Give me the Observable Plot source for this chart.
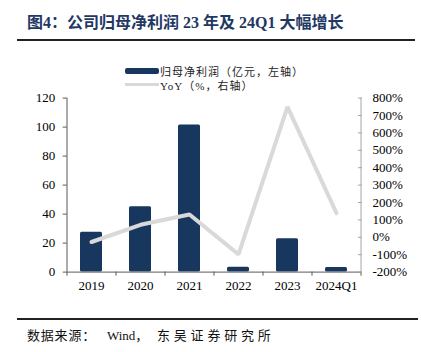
<!DOCTYPE html>
<html><head><meta charset="utf-8">
<script src="https://cdn.jsdelivr.net/npm/d3@7"></script>
<script src="https://cdn.jsdelivr.net/npm/@observablehq/plot@0.6"></script>
<style>
body{margin:0;background:#fff;}
#wrap{position:relative;width:421px;height:352px;overflow:hidden;font-family:"Liberation Serif","Noto Sans CJK SC",serif;}
.abs{position:absolute;}
#title{left:27px;top:9px;font-size:16px;font-weight:bold;color:#1f3864;white-space:nowrap;}
#hr1{left:17px;top:39px;width:398px;height:2px;background:#222;}
#hr2{left:17px;top:318px;width:401px;height:2px;background:#222;}
#caption{left:27px;top:325px;font-size:13px;color:#111;white-space:nowrap;}
.leg{font-size:11px;color:#222;white-space:nowrap;letter-spacing:1px;}
#plot{left:0;top:80px;}
</style></head>
<body><div id="wrap">
<div id="title" class="abs">图4：公司归母净利润 23 年及 24Q1 大幅增长</div>
<div id="hr1" class="abs"></div>
<div class="abs" style="left:125px;top:68px;width:34px;height:6px;background:#17375e;border-radius:2px;"></div>
<div class="abs leg" style="left:160px;top:63px;">归母净利润（亿元，左轴）</div>
<div class="abs" style="left:125px;top:83px;width:34px;height:3px;background:#d9d9d9;"></div>
<div class="abs leg" style="left:160px;top:77px;">YoY（%，右轴）</div>
<div id="plot" class="abs"></div>
<div id="hr2" class="abs"></div>
<div id="caption" class="abs"><span style="letter-spacing:0.8px">数据来源：</span><span style="position:absolute;left:80px;">Wind，</span><span style="position:absolute;left:130px;letter-spacing:3.8px">东吴证券研究所</span></div>
</div>
<script>
const categories = ["2019","2020","2021","2022","2023","2024Q1"];
const profit = [27.5, 45, 101.5, 3.3, 23, 3.2];
const yoy = [-27, 72, 131, -98, 750, 139];
const leftTicks = [0,20,40,60,80,100,120];
const rightTicks = [-200,-100,0,100,200,300,400,500,600,700,800];

const toLeft = v => (v + 200) / 1000 * 120;
const bars = categories.map((c,i)=>({cat:c, v:profit[i]}));
const line = categories.map((c,i)=>({cat:c, v:toLeft(yoy[i])}));
const axisGray = "#595959";
const last = categories[categories.length-1];

const chart = Plot.plot({
  width: 421, height: 225,
  marginTop: 17.6, marginBottom: 33.4, marginLeft: 66.7, marginRight: 60,
  style:{fontFamily:"Liberation Serif, serif", fontSize:"13px", color:"#000", background:"transparent"},
  x:{type:"band", domain:categories, paddingInner:0.55, paddingOuter:0.275},
  y:{domain:[0,120]},
  marks:[
    Plot.barY(bars,{x:"cat", y:"v", fill:"#17375e", rx:1.5}),
    Plot.line(line,{x:"cat", y:"v", stroke:"#d9d9d9", strokeWidth:4, strokeLinejoin:"miter"}),
    Plot.ruleY([0],{stroke:axisGray}),
    Plot.ruleX(categories,{x:d=>d, dx:-24.5, y1:0, y2:-2.8, stroke:axisGray}),
    Plot.ruleX([last],{x:d=>d, dx:24.5, y1:0, y2:-2.8, stroke:axisGray}),
    Plot.ruleX([categories[0]],{x:d=>d, dx:-24.5, y1:0, y2:120, stroke:axisGray}),
    Plot.ruleX([last],{x:d=>d, dx:24.5, y1:0, y2:120, stroke:"#a6a6a6"}),
    Plot.axisX({tickSize:0, tickPadding:9, label:null, fontSize:13}),
    Plot.axisY({anchor:"left", ticks:leftTicks, tickSize:4, tickPadding:8, label:null, stroke:axisGray, fontSize:13}),
    Plot.axisY({anchor:"right", ticks:rightTicks.map(toLeft), tickFormat:(d)=>Math.round(d/0.12-200)+"%", tickSize:0, tickPadding:11, label:null, fontSize:13}),
    Plot.axisY({anchor:"right", ticks:rightTicks.map(toLeft), tickSize:4, dx:-4, text:null, label:null, stroke:"#a6a6a6"})
  ]
});
document.getElementById("plot").appendChild(chart);
</script>
</body></html>
